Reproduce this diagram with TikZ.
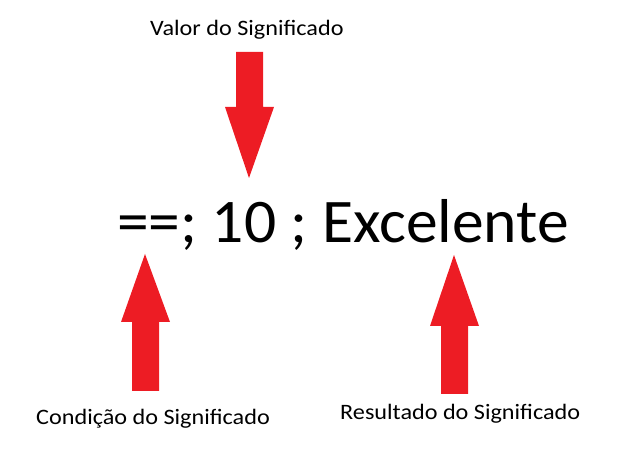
\documentclass[tikz,border=0pt]{standalone}
\usepackage{fontspec}
\setmainfont{Carlito}
\definecolor{arrowred}{HTML}{ED1C24}
\tikzset{
  x=1pt,y=1pt,
  blockarrow/.style={fill=arrowred,draw=none},
  smalltext/.style={anchor=base west,inner sep=0pt,xscale=1.1,font=\fontsize{22}{26}\selectfont},
  bigtext/.style={anchor=base west,inner sep=0pt,xscale=1.025,font=\fontsize{62}{70}\selectfont}
}
\begin{document}
\begin{tikzpicture}
\useasboundingbox (0,0) rectangle (643,449);
% texts
\node[smalltext] (valor) at (150,413) {Valor do Significado};
\node[bigtext] (expr) at (117,206) {==; 10 ; Excelente};
\node[smalltext] (cond) at (36,24) {Condição do Significado};
\node[smalltext] (res) at (340,29) {Resultado do Significado};
% top arrow (down)
\fill[blockarrow] (236,397) -- (263,397) -- (263,342) -- (274,342) -- (249,271) -- (225,342) -- (236,342) -- cycle;
% left arrow (up)
\fill[blockarrow] (132,58) -- (159,58) -- (159,127) -- (170,127) -- (145,195) -- (121,127) -- (132,127) -- cycle;
% right arrow (up)
\fill[blockarrow] (441,55) -- (468,55) -- (468,123) -- (479,123) -- (454,194) -- (430,123) -- (441,123) -- cycle;
\end{tikzpicture}
\end{document}
